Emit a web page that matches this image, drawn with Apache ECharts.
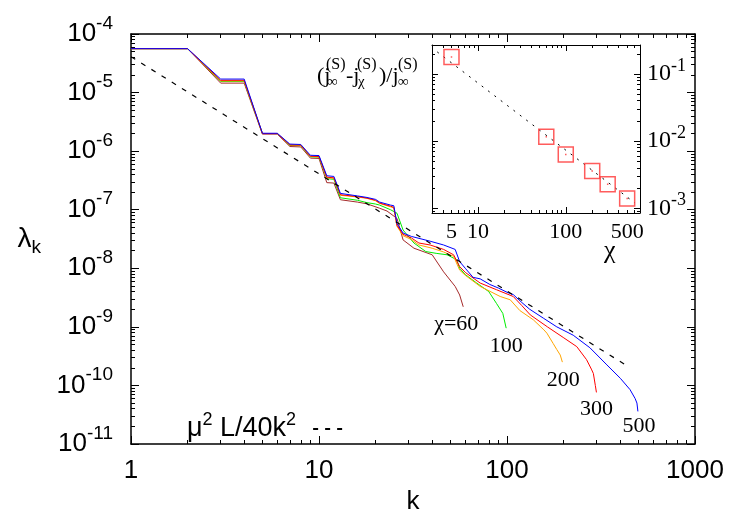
<!DOCTYPE html>
<html>
<head>
<meta charset="utf-8">
<script src="https://cdn.jsdelivr.net/npm/echarts@6/dist/echarts.min.js"></script>
<style>
html, body { margin: 0; padding: 0; background: #fff; }
#chart { width: 747px; height: 523px; }
</style>
</head>
<body>
<div id="chart"></div>
<script>
// main plot: lambda_k against k, one curve per bond dimension chi
var chi60 = [[1,5.62e-5],[2,5.62e-5],[3,1.45e-5],[4,1.45e-5],[5,1.95e-6],[6,1.95e-6],[7,1.2e-6],[8,1.18e-6],[9,7.6e-7],[10,7.5e-7],[11,2.9e-7],[12,2.85e-7],[13,1.48e-7],[16,1.35e-7],[18,1.26e-7],[21,1.06e-7],[23,9.5e-8],[26,7.1e-8],[28,3.05e-8],[32,2.2e-8],[40,1.7e-8],[46,8.7e-9],[53,4.9e-9],[56,3.5e-9],[58.5,2.2e-9]];
var chi100 = [[1,5.62e-5],[2,5.62e-5],[3,1.55e-5],[4,1.55e-5],[5,2.0e-6],[6,2.0e-6],[7,1.25e-6],[8,1.24e-6],[9,8.0e-7],[10,7.9e-7],[11,3.4e-7],[12,3.3e-7],[13,1.6e-7],[16,1.45e-7],[18,1.32e-7],[20,1.25e-7],[21,1.2e-7],[24,1.0e-7],[26,8.7e-8],[28,4.5e-8],[32,2.7e-8],[37,1.93e-8],[42,1.8e-8],[48,1.7e-8],[54,1.4e-8],[56,1.0e-8],[60,7.8e-9],[69,5.6e-9],[80,4.0e-9],[88,2.5e-9],[95,1.7e-9],[99,9.5e-10]];
var chi200 = [[1,5.62e-5],[2,5.62e-5],[3,1.58e-5],[4,1.58e-5],[5,2.0e-6],[6,2.0e-6],[7,1.27e-6],[8,1.26e-6],[9,8.1e-7],[10,8.0e-7],[11,3.5e-7],[12,3.45e-7],[13,1.76e-7],[16,1.65e-7],[18,1.56e-7],[20,1.42e-7],[21,1.28e-7],[24,1.12e-7],[25,1.07e-7],[26,5.2e-8],[28,3.6e-8],[31,3.1e-8],[34,2.5e-8],[40,2.2e-8],[46,1.9e-8],[52,1.6e-8],[56,9.3e-9],[60,7.6e-9],[72,4.9e-9],[92,3.3e-9],[104,2.9e-9],[117,1.9e-9],[138,1.32e-9],[157,8.9e-10],[163,7.8e-10],[176,5.2e-10],[184,4.1e-10],[192,3.3e-10],[197,2.5e-10]];
var chi300 = [[1,5.62e-5],[2,5.62e-5],[3,1.62e-5],[4,1.62e-5],[5,2.0e-6],[6,2.0e-6],[7,1.28e-6],[8,1.27e-6],[9,8.2e-7],[10,8.1e-7],[11,3.6e-7],[12,3.5e-7],[13,1.8e-7],[16,1.68e-7],[18,1.58e-7],[20,1.45e-7],[21,1.3e-7],[24,1.15e-7],[25,1.1e-7],[26,5.4e-8],[28,3.8e-8],[31,3.3e-8],[34,2.7e-8],[39,2.5e-8],[46,2.1e-8],[52,1.7e-8],[56,1.07e-8],[60,8.5e-9],[72,5.6e-9],[88,4.3e-9],[108,3.3e-9],[120,2.3e-9],[133,1.6e-9],[164,1.0e-9],[199,6.6e-10],[235,4.6e-10],[265,2.75e-10],[281,1.9e-10],[288,1.6e-10],[295,1.0e-10],[299,7.6e-11]];
var chi500 = [[1,5.62e-5],[2,5.62e-5],[3,1.7e-5],[4,1.7e-5],[5,2.02e-6],[6,2.02e-6],[7,1.32e-6],[8,1.3e-6],[9,8.5e-7],[10,8.4e-7],[11,3.8e-7],[12,3.7e-7],[13,1.9e-7],[16,1.72e-7],[18,1.62e-7],[20,1.5e-7],[21,1.35e-7],[24,1.2e-7],[25,1.17e-7],[26,5.8e-8],[28,4.0e-8],[31,3.5e-8],[39,2.9e-8],[46,2.5e-8],[53,2.1e-8],[56,1.3e-8],[60,1.0e-8],[66,7.0e-9],[72,6.6e-9],[81,5.3e-9],[90,4.6e-9],[100,3.9e-9],[108,3.55e-9],[120,2.6e-9],[132,2.0e-9],[156,1.41e-9],[184,1.0e-9],[225,7.2e-10],[276,4.4e-10],[340,2.24e-10],[401,1.32e-10],[451,8.5e-11],[480,6.0e-11],[491,5.0e-11],[497,3.6e-11]];
// mu^2 L / 40 k^2
var fitLine = [[1,4.1e-5],[450,2.02e-10]];
var curveLabels = ['\u03c7=60','100','200','300','500'];
var curveColors = ['#a52a2a','#00ee00','#ffa500','#ff0000','#0000ff'];

// inset: relative error of j vs chi
var insetChi = [5,60,100,200,300,500];
var insetErr = [0.179,0.0116,6.3e-3,3.6e-3,2.28e-3,1.4e-3];
var insetFit = [[3.44,0.213],[612,1.2e-3]];
var insetXTicks = [5,10,100,500];

var sans = 'Liberation Sans';
var serif = 'Liberation Serif';

// 2..9 x 10^n inside [lo, hi], for the short ticks
function minorValues (lo, hi) {
  var out = [];
  for (var e = -12; e <= 3; e++) {
    for (var m = 2; m <= 9; m++) {
      var v = m * Math.pow(10, e);
      if (v > lo * 1.0001 && v < hi * 0.9999) out.push(v);
    }
  }
  return out;
}

function powLabel (v) {
  var e = Math.log10(v);
  if (Math.abs(e - Math.round(e)) > 1e-6) return '';
  return '{b|10}{s|' + Math.round(e) + '}';
}

function logAxis (grid, pos, min, max, extra) {
  var a = {
    type: 'log', logBase: 10, gridIndex: grid, position: pos, min: min, max: max,
    axisLine: {show: true, onZero: false, lineStyle: {color: '#000', width: grid === 0 ? 1.5 : 1}},
    axisTick: {show: true, inside: true, length: grid === 0 ? 8 : 6, lineStyle: {color: '#000', width: 1}},
    axisLabel: {show: false},
    splitLine: {show: false}
  };
  if (grid === 1) a.z = 6;
  for (var key in extra) a[key] = extra[key];
  return a;
}

function minorAxis (grid, pos, min, max) {
  return logAxis(grid, pos, min, max, {
    axisLine: {show: false},
    axisTick: {show: true, inside: true, length: grid === 0 ? 4 : 3,
      customValues: minorValues(min, max), lineStyle: {color: '#000', width: 1}}
  });
}

var series = [];
var curves = [chi60, chi100, chi200, chi300, chi500];
var labelOffsets = [[-7,17],[0,18],[1,18],[0,17],[1,15]];
curves.forEach(function (data, i) {
  series.push({
    name: curveLabels[i], type: 'line', data: data, xAxisIndex: 0, yAxisIndex: 0,
    symbol: 'none', silent: true,
    lineStyle: {color: curveColors[i], width: 1},
    itemStyle: {color: curveColors[i]},
    markPoint: {
      symbol: 'circle', symbolSize: 1, silent: true,
      itemStyle: {color: 'rgba(0,0,0,0)'},
      label: {show: true, position: 'inside', offset: labelOffsets[i], formatter: curveLabels[i],
        color: '#000', fontFamily: serif, fontSize: 22},
      data: [{coord: data[data.length - 1]}]
    }
  });
});
series.push({
  name: 'fit', type: 'line', data: fitLine, xAxisIndex: 0, yAxisIndex: 0,
  symbol: 'none', silent: true,
  lineStyle: {color: '#000', width: 1.2, type: [5, 7]},
  itemStyle: {color: '#000'}
});
series.push({
  name: 'insetFit', type: 'line', data: insetFit, xAxisIndex: 4, yAxisIndex: 4,
  symbol: 'none', silent: true, z: 10,
  lineStyle: {color: '#000', width: 1, type: [2, 6]}
});
series.push({
  name: 'insetErr', type: 'scatter', xAxisIndex: 4, yAxisIndex: 4, silent: true, z: 11,
  data: insetChi.map(function (c, i) { return [c, insetErr[i]]; }),
  symbol: 'rect', symbolSize: 15,
  itemStyle: {color: 'rgba(0,0,0,0)', borderColor: '#ff3333', borderWidth: 1.5}
});
series.push({
  name: 'insetDot', type: 'scatter', xAxisIndex: 4, yAxisIndex: 4, silent: true, z: 11,
  data: insetChi.map(function (c, i) { return [c, insetErr[i]]; }),
  symbol: 'rect', symbolSize: 1.5,
  itemStyle: {color: '#ff3333'}
});

function txt (text, left, top, size) {
  return {type: 'text', left: left, top: top, z: 10, silent: true,
    style: {text: text, fill: '#000', font: size + 'px ' + serif}};
}

var option = {
  animation: false,
  backgroundColor: '#fff',
  grid: [
    {left: 131, top: 34, width: 564, height: 410, outerBoundsMode: 'none'},
    {left: 432, top: 45, width: 208, height: 168, show: true, backgroundColor: '#fff', borderWidth: 0, outerBoundsMode: 'none', z: 5}
  ],
  legend: {
    left: 182, top: 406, align: 'right', itemWidth: 30, itemHeight: 12,
    selectedMode: false,
    data: ['fit'],
    itemStyle: {opacity: 0},
    formatter: function () { return '{t|\u03bc}{s|2}{t| L/40k}{s|2}{g|}'; },
    textStyle: {
      color: '#000', fontFamily: sans, fontSize: 27,
      rich: {
        t: {fontFamily: sans, fontSize: 27, lineHeight: 36},
        s: {fontFamily: sans, fontSize: 18, lineHeight: 18, verticalAlign: 'top'},
        g: {width: 12}
      }
    }
  },
  xAxis: [
    logAxis(0, 'bottom', 1, 1000, {
      axisLabel: {show: true, margin: 14, color: '#000', fontFamily: sans, fontSize: 26,
        formatter: function (v) { return String(Math.round(v)); }},
      name: 'k', nameLocation: 'middle', nameGap: 44,
      nameTextStyle: {color: '#000', fontFamily: sans, fontSize: 26}
    }),
    logAxis(0, 'top', 1, 1000, {}),
    minorAxis(0, 'bottom', 1, 1000),
    minorAxis(0, 'top', 1, 1000),
    logAxis(1, 'bottom', 3, 700, {
      axisLabel: {show: true, margin: 8, color: '#000', fontFamily: serif, fontSize: 22,
        customValues: insetXTicks,
        formatter: function (v) { return String(Math.round(v)); }}
    }),
    logAxis(1, 'top', 3, 700, {}),
    minorAxis(1, 'bottom', 3, 700),
    minorAxis(1, 'top', 3, 700)
  ],
  yAxis: [
    logAxis(0, 'left', 1e-11, 1e-4, {
      axisLabel: {show: true, margin: 18, color: '#000', formatter: powLabel,
        rich: {
          b: {fontFamily: sans, fontSize: 26, lineHeight: 40},
          s: {fontFamily: sans, fontSize: 19, lineHeight: 19, verticalAlign: 'top'}
        }},
      name: '{l|\u03bb}{k|k}', nameLocation: 'middle', nameRotate: 0, nameGap: 90,
      nameTextStyle: {color: '#000', rich: {
        l: {fontFamily: sans, fontSize: 28, lineHeight: 36},
        k: {fontFamily: sans, fontSize: 19, lineHeight: 19, verticalAlign: 'bottom'}
      }}
    }),
    logAxis(0, 'right', 1e-11, 1e-4, {}),
    minorAxis(0, 'left', 1e-11, 1e-4),
    minorAxis(0, 'right', 1e-11, 1e-4),
    logAxis(1, 'left', 8.5e-4, 0.27, {}),
    logAxis(1, 'right', 8.5e-4, 0.27, {
      axisLabel: {show: true, margin: 7, color: '#000', formatter: powLabel,
        rich: {
          b: {fontFamily: serif, fontSize: 24, lineHeight: 34},
          s: {fontFamily: serif, fontSize: 18, lineHeight: 18, verticalAlign: 'top'}
        }}
    }),
    minorAxis(1, 'left', 8.5e-4, 0.27),
    minorAxis(1, 'right', 8.5e-4, 0.27)
  ],
  graphic: [
    txt('\u03c7', 604, 238, 26),
    // inset ordinate label (j_inf^(S) - j_chi^(S)) / j_inf^(S)
    txt('(j', 317, 65, 22),
    txt('\u221e', 327, 75, 15),
    txt('(S)', 326, 57, 16),
    txt('-j', 346, 65, 22),
    txt('\u03c7', 358, 75, 15),
    txt('(S)', 357, 57, 16),
    txt(')/j', 379, 65, 22),
    txt('\u221e', 398, 75, 15),
    txt('(S)', 398, 57, 16)
  ],
  series: series
};

var chart = echarts.init(document.getElementById('chart'));
chart.setOption(option);
</script>
</body>
</html>
